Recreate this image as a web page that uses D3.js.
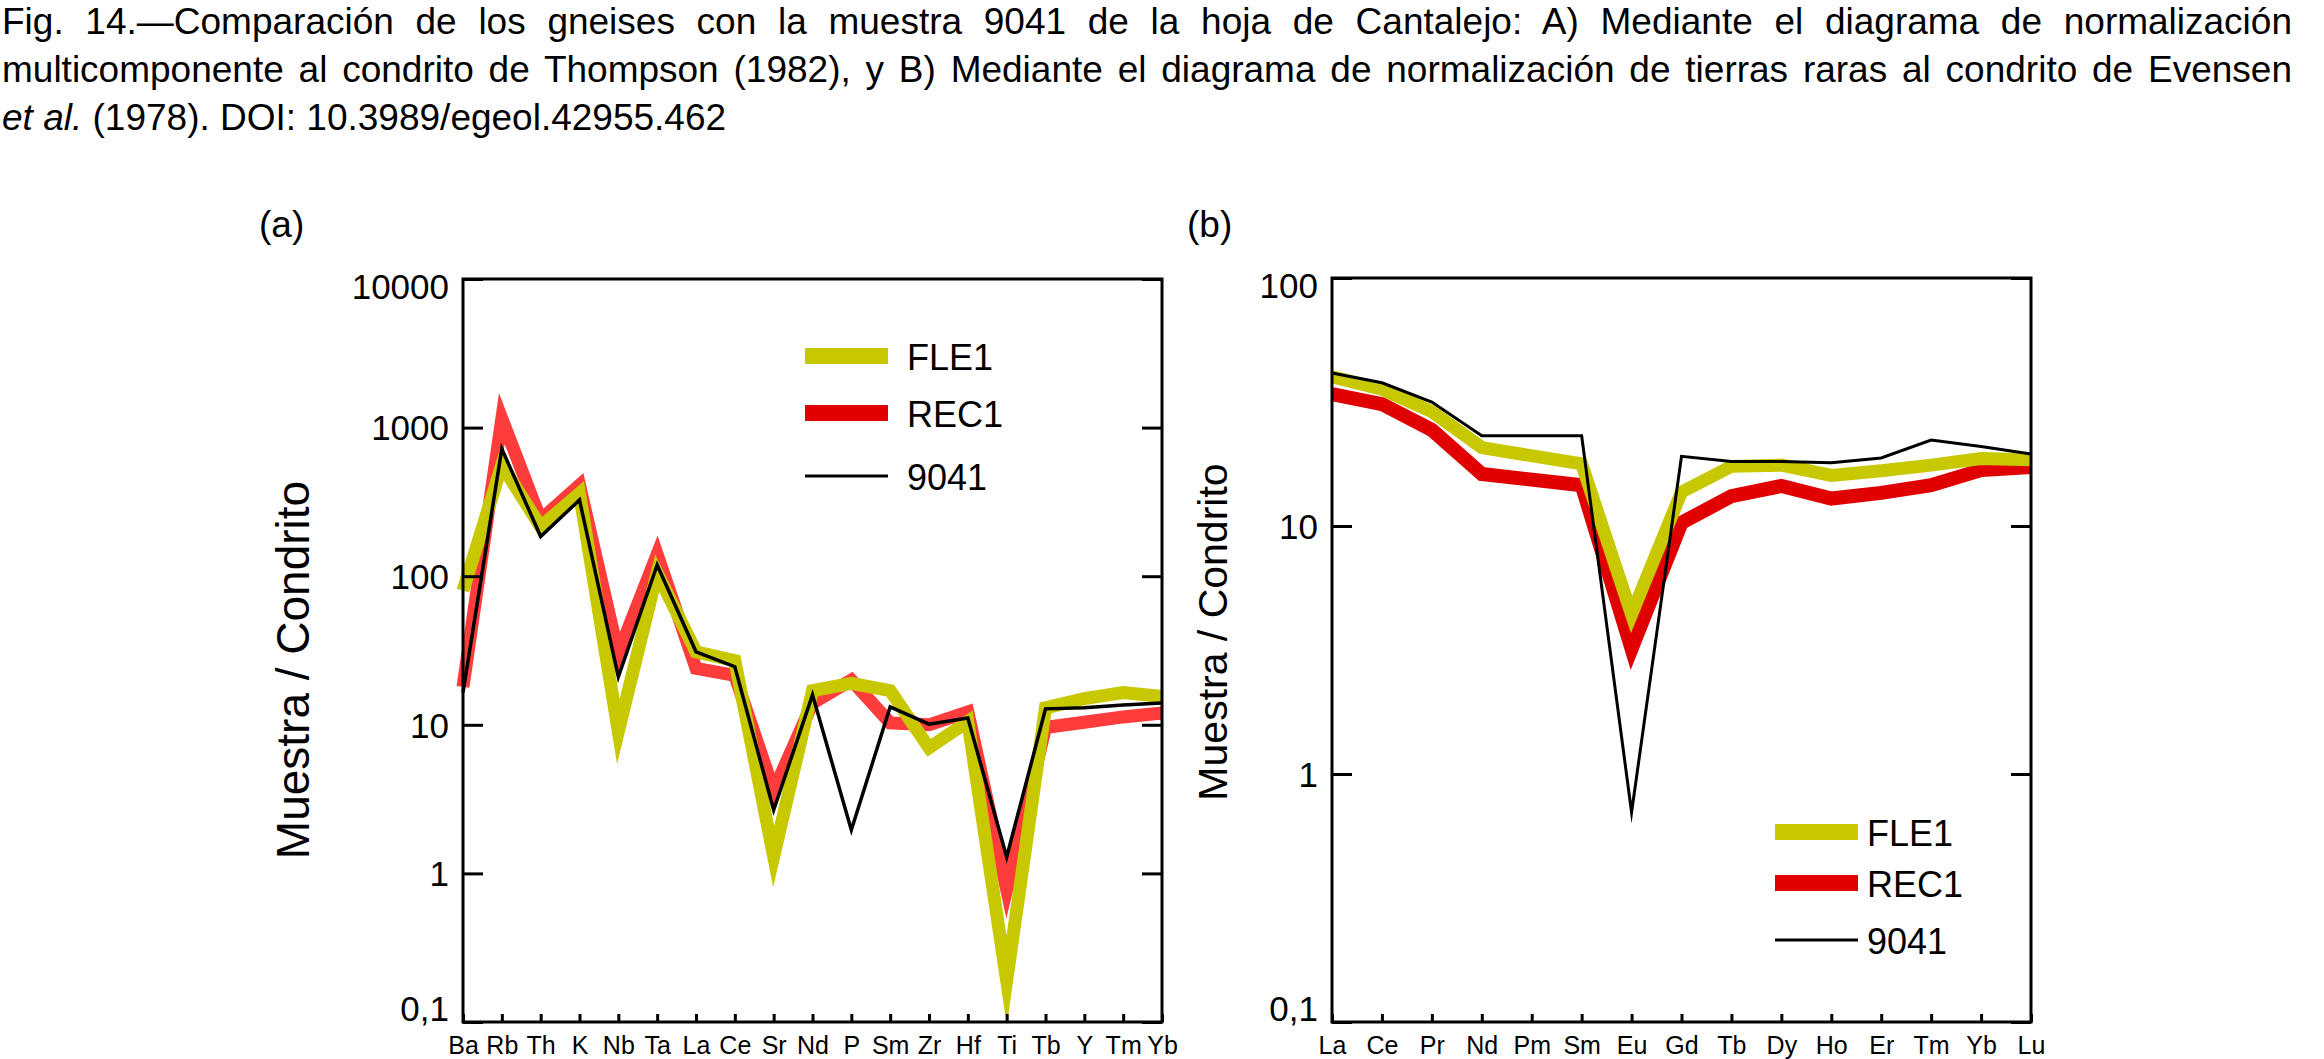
<!DOCTYPE html>
<html>
<head>
<meta charset="utf-8">
<script src="https://cdn.jsdelivr.net/npm/d3@7"></script>
<style>
  body { margin: 0; background: #fff; }
  svg text { font-family: "Liberation Sans", Arial, Helvetica, sans-serif; fill: #000; }
</style>
</head>
<body>
<div id="chart"></div>
<script>
// (a) multicomponent diagram, Thompson (1982)
const elementsA = ["Ba", "Rb", "Th", "K", "Nb", "Ta", "La", "Ce", "Sr", "Nd",
  "P", "Sm", "Zr", "Hf", "Ti", "Tb", "Y", "Tm", "Yb"];
const fle1A = [80, 560, 215, 360, 9, 105, 31, 27, 1.3, 17, 19, 17, 7, 10.5, 0.19, 13, 15, 16.5, 15.5];
const rec1A = [18, 1150, 240, 410, 30, 140, 24, 21.5, 3.6, 14, 20, 10.3, 10, 12.2, 0.78, 9.6, 10.4, 11.3, 12];
const s9041A = [16.5, 720, 185, 326, 21, 119, 31, 24.6, 2.67, 15.9, 1.96, 13.2, 10.1, 11.1, 1.29, 12.8, 13, 13.6, 14];
const ticksA = [10000, 1000, 100, 10, 1, 0.1];

// (b) REE diagram, Evensen et al. (1978); Pm not analysed
const elementsB = ["La", "Ce", "Pr", "Nd", "Pm", "Sm", "Eu", "Gd", "Tb", "Dy", "Ho", "Er", "Tm", "Yb", "Lu"];
const fle1B = [40, 35.6, 28.9, 20.7, null, 17.8, 4.4, 13.7, 17.4, 17.6, 16.0, 16.7, 17.6, 18.7, 18.5];
const rec1B = [34, 31, 24.4, 16.2, null, 14.6, 3.2, 10.3, 13.2, 14.5, 12.9, 13.6, 14.6, 16.8, 17.3];
const s9041B = [41.4, 37.8, 31.6, 23.1, null, 23.1, 0.7, 19.1, 18.2, 18.2, 18.0, 18.8, 22.2, 20.9, 19.5];
const ticksB = [100, 10, 1, 0.1];

const seriesNames = ["FLE1", "REC1", "9041"];
const yTitle = "Muestra / Condrito";

const captionLines = [
  "Fig. 14.\u2014Comparación de los gneises con la muestra 9041 de la hoja de Cantalejo: A) Mediante el diagrama de normalización",
  "multicomponente al condrito de Thompson (1982), y B) Mediante el diagrama de normalización de tierras raras al condrito de Evensen",
];
const captionLast = ["et al.", " (1978). DOI: 10.3989/egeol.42955.462"];

const width = 2324;
const height = 1059;

const svg = d3
  .select("#chart")
  .append("svg")
  .attr("width", width)
  .attr("height", height)
  .attr("viewBox", [0, 0, width, height]);

svg.append("rect").attr("width", width).attr("height", height).attr("fill", "#fff");

// caption, justified to the text block width
const captionRight = 2292;
captionLines.forEach((line, i) => {
  const t = svg
    .append("text")
    .attr("x", 2)
    .attr("y", 34 + i * 48)
    .style("font-size", "37px")
    .text(line);
  const natural = t.node().getComputedTextLength();
  const spaces = line.split(" ").length - 1;
  t.style("word-spacing", (captionRight - 2 - natural) / spaces + "px");
});
const last = svg
  .append("text")
  .attr("x", 2)
  .attr("y", 130)
  .style("font-size", "37px");
last.append("tspan").style("font-style", "italic").text(captionLast[0]);
last.append("tspan").text(captionLast[1]);

function fmt(d) {
  return d < 1 ? String(d).replace(".", ",") : String(d);
}

function drawPanel(p) {
  const x = d3.scalePoint().domain(p.elements).range([p.left, p.right]);
  const y = d3.scaleLog().domain([p.ticks[p.ticks.length - 1], p.ticks[0]]).range([p.bottom, p.top]);

  const g = svg.append("g");

  g.append("text")
    .attr("x", p.tagX)
    .attr("y", 237)
    .style("font-size", "37px")
    .text(p.tag);

  g.append("text")
    .attr("transform", `translate(${p.titleX},${p.titleY}) rotate(-90)`)
    .attr("text-anchor", "middle")
    .style("font-size", p.titleSize + "px")
    .text(yTitle);

  // series, red under yellow, black on top
  const series = [
    { values: p.rec1, color: p.redLine, w: p.redW },
    { values: p.fle1, color: "#c8c800", w: p.yelW },
    { values: p.s9041, color: "#000", w: p.blackW },
  ];
  const line = d3
    .line()
    .x((d) => x(d.el))
    .y((d) => y(d.v));

  series.forEach((s) => {
    const pts = p.elements
      .map((el, i) => ({ el: el, v: s.values[i] }))
      .filter((d) => d.v != null);
    g.append("path")
      .datum(pts)
      .attr("d", line)
      .attr("fill", "none")
      .attr("stroke", s.color)
      .attr("stroke-width", s.w)
      .attr("stroke-linejoin", "miter")
      .attr("stroke-miterlimit", 10);
  });

  // axes
  const left = g
    .append("g")
    .attr("transform", `translate(${p.left},0)`)
    .call(
      d3.axisLeft(y).tickValues(p.ticks).tickFormat(fmt)
        .tickSizeInner(-20).tickSizeOuter(0).tickPadding(14)
    );
  left.selectAll("text")
    .style("font-size", "35px")
    .attr("dy", (d) => (d === p.ticks[0] ? "0.55em" : d === p.ticks[p.ticks.length - 1] ? "-0.05em" : "0.35em"));

  g.append("g")
    .attr("transform", `translate(${p.right},0)`)
    .call(d3.axisRight(y).tickValues(p.ticks).tickFormat("").tickSizeInner(-20).tickSizeOuter(0));

  const bottom = g
    .append("g")
    .attr("transform", `translate(0,${p.bottom})`)
    .call(d3.axisBottom(x).tickSizeInner(-8).tickSizeOuter(0).tickPadding(14));
  bottom.selectAll("text").style("font-size", "25px");

  g.selectAll(".domain").remove();
  g.selectAll(".tick line").attr("stroke", "#000").attr("stroke-width", 3);
  g.selectAll(".tick text").attr("fill", "#000").style("font-family", '"Liberation Sans", Arial, sans-serif');

  g.append("rect")
    .attr("x", p.left)
    .attr("y", p.top)
    .attr("width", p.right - p.left)
    .attr("height", p.bottom - p.top)
    .attr("fill", "none")
    .attr("stroke", "#000")
    .attr("stroke-width", 3);

  // legend
  const legendStyle = [
    { color: "#c8c800", w: 16 },
    { color: "#e00000", w: 16 },
    { color: "#000", w: 3 },
  ];
  seriesNames.forEach((name, i) => {
    const ly = p.legendY[i];
    g.append("line")
      .attr("x1", p.legendX)
      .attr("x2", p.legendX + 83)
      .attr("y1", ly)
      .attr("y2", ly)
      .attr("stroke", legendStyle[i].color)
      .attr("stroke-width", legendStyle[i].w);
    g.append("text")
      .attr("x", p.legendTextX)
      .attr("y", ly + 14)
      .style("font-size", "36px")
      .text(name);
  });
}

drawPanel({
  tag: "(a)",
  tagX: 259,
  titleX: 309,
  titleY: 670,
  titleSize: 46,
  left: 463,
  right: 1162,
  top: 279,
  bottom: 1022,
  elements: elementsA,
  ticks: ticksA,
  fle1: fle1A,
  rec1: rec1A,
  s9041: s9041A,
  redLine: "#ff3c3c",
  redW: 13,
  yelW: 13,
  blackW: 3.5,
  legendX: 805,
  legendTextX: 907,
  legendY: [356, 413, 476],
});

drawPanel({
  tag: "(b)",
  tagX: 1187,
  titleX: 1227,
  titleY: 632,
  titleSize: 41,
  left: 1332,
  right: 2031,
  top: 278,
  bottom: 1022,
  elements: elementsB,
  ticks: ticksB,
  fle1: fle1B,
  rec1: rec1B,
  s9041: s9041B,
  redLine: "#e00000",
  redW: 14,
  yelW: 13,
  blackW: 3,
  legendX: 1775,
  legendTextX: 1867,
  legendY: [832, 883, 940],
});
</script>
</body>
</html>
